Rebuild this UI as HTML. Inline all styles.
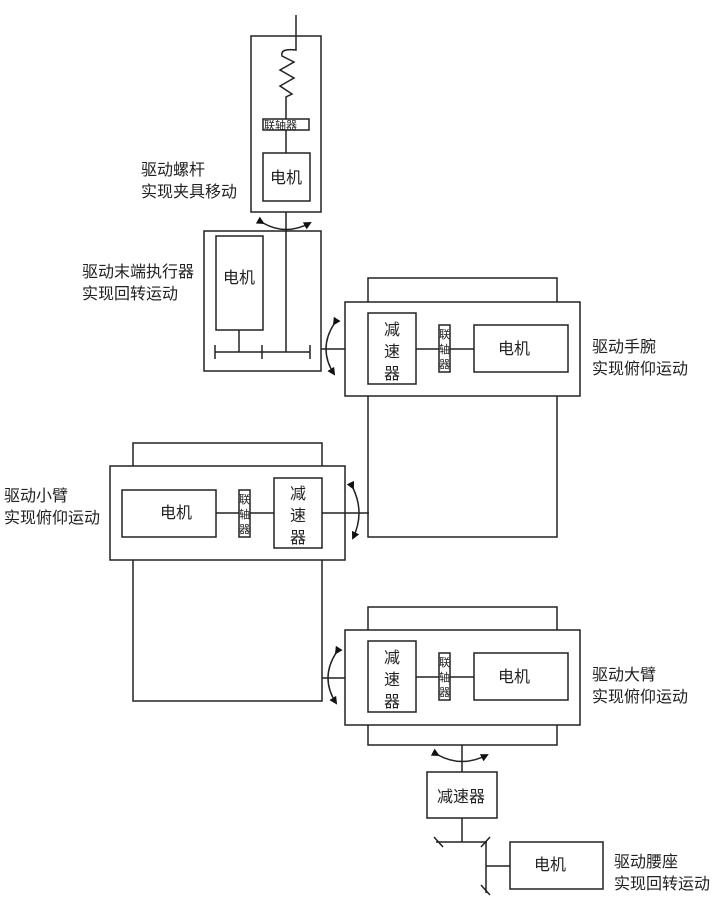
<!DOCTYPE html>
<html><head><meta charset="utf-8"><style>
html,body{margin:0;padding:0;background:#fff;}
svg{display:block;}
text{font-family:"Liberation Sans","Noto Sans CJK SC",sans-serif;fill:#222;}
</style></head><body>
<svg width="719" height="906" viewBox="0 0 719 906" xmlns="http://www.w3.org/2000/svg">
<defs>
<marker id="ah" markerWidth="8" markerHeight="8" refX="6" refY="4" orient="auto" markerUnits="userSpaceOnUse">
<path d="M0,0 L8,4 L0,8 Z" fill="#111"/></marker>
</defs>
<g fill="none" stroke="#222" stroke-width="1.5">
<!-- top screw box -->
<rect x="251" y="36" width="70" height="176"/>
<path d="M296,15 L296,50 Q280,48 282,56 L294,62 L280,70 L294,78 L280,86 L292,94 L286,97 L286,119"/>
<line x1="286" y1="130" x2="286" y2="153"/>
<rect x="263" y="119" width="46" height="11" fill="#fff"/>
<rect x="263" y="153" width="47" height="48"/>
<line x1="286" y1="212" x2="286" y2="352"/>
<path d="M263,223 Q286,236 310,223" marker-start="url(#ah)" marker-end="url(#ah)"/>
<!-- rotator -->
<rect x="204" y="231" width="117" height="140"/>
<rect x="216" y="236" width="47" height="94"/>
<line x1="239" y1="330" x2="239" y2="352"/>
<line x1="215" y1="352" x2="310" y2="352"/>
<line x1="215" y1="345" x2="215" y2="359"/>
<line x1="262" y1="345" x2="262" y2="359"/>
<line x1="310" y1="345" x2="310" y2="359"/>
<line x1="321" y1="349" x2="368" y2="349"/>
<path d="M334,324 Q318,349 334,374" marker-start="url(#ah)" marker-end="url(#ah)"/>
<!-- wrist -->
<rect x="368" y="278" width="189" height="259"/>
<rect x="345" y="302" width="235" height="94" fill="#fff"/>
<line x1="416" y1="349" x2="474" y2="349"/>
<rect x="368" y="313" width="48" height="71" fill="#fff"/>
<rect x="439" y="325" width="11" height="47" fill="#fff"/>
<rect x="474" y="325" width="94" height="47" fill="#fff"/>
<!-- forearm -->
<rect x="133" y="443" width="189" height="258"/>
<rect x="110" y="466" width="235" height="94" fill="#fff"/>
<line x1="216" y1="513" x2="369" y2="513"/>
<rect x="122" y="490" width="94" height="47" fill="#fff"/>
<rect x="239" y="490" width="11" height="47" fill="#fff"/>
<rect x="274" y="478" width="48" height="70" fill="#fff"/>
<path d="M353,488 Q365,513 353,538" marker-start="url(#ah)" marker-end="url(#ah)"/>
<line x1="322" y1="678" x2="369" y2="678"/>
<path d="M336,653 Q320,678 336,703" marker-start="url(#ah)" marker-end="url(#ah)"/>
<!-- upper arm -->
<rect x="368" y="607" width="189" height="138"/>
<rect x="345" y="630" width="235" height="95" fill="#fff"/>
<line x1="416" y1="677" x2="474" y2="677"/>
<rect x="368" y="641" width="48" height="71" fill="#fff"/>
<rect x="439" y="653" width="11" height="47" fill="#fff"/>
<rect x="474" y="653" width="94" height="47" fill="#fff"/>
<!-- base -->
<line x1="462" y1="745" x2="462" y2="772"/>
<path d="M438,755 Q462,768 487,755" marker-start="url(#ah)" marker-end="url(#ah)"/>
<rect x="427" y="772" width="70" height="46"/>
<line x1="462" y1="818" x2="462" y2="842"/>
<line x1="436" y1="842" x2="487" y2="842"/>
<line x1="434" y1="837" x2="443" y2="847"/>
<line x1="481" y1="847" x2="490" y2="837"/>
<line x1="486" y1="842" x2="486" y2="893"/>
<line x1="481" y1="885" x2="490" y2="895"/>
<line x1="486" y1="866" x2="510" y2="866"/>
<rect x="510" y="842" width="93" height="47"/>
</g>
<g font-size="16">
<text x="141" y="175">驱动螺杆</text><text x="141" y="197">实现夹具移动</text>
<text x="82" y="277">驱动末端执行器</text><text x="82" y="299">实现回转运动</text>
<text x="592" y="352">驱动手腕</text><text x="592" y="374">实现俯仰运动</text>
<text x="4" y="501">驱动小臂</text><text x="4" y="523">实现俯仰运动</text>
<text x="592" y="680">驱动大臂</text><text x="592" y="702">实现俯仰运动</text>
<text x="614" y="867">驱动腰座</text><text x="614" y="889">实现回转运动</text>
<text x="270" y="183">电机</text>
<text x="223" y="283">电机</text>
<text x="498" y="354">电机</text>
<text x="160" y="518">电机</text>
<text x="498" y="682">电机</text>
<text x="534" y="870">电机</text>
<text x="437" y="802">减速器</text>
<text x="384" y="335">减</text><text x="384" y="357">速</text><text x="384" y="379">器</text>
<text x="290" y="499">减</text><text x="290" y="521">速</text><text x="290" y="543">器</text>
<text x="384" y="663">减</text><text x="384" y="685">速</text><text x="384" y="707">器</text>
</g>
<g font-size="11">
<text x="264" y="129">联轴器</text>
<text x="439" y="338">联</text><text x="439" y="353">轴</text><text x="439" y="368">器</text>
<text x="239" y="503">联</text><text x="239" y="518">轴</text><text x="239" y="533">器</text>
<text x="439" y="666">联</text><text x="439" y="681">轴</text><text x="439" y="696">器</text>
</g>
</svg>
</body></html>
